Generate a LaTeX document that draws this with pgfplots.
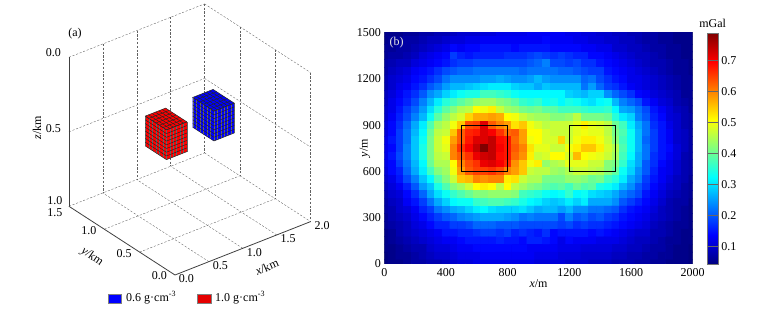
\documentclass[border=0pt]{standalone}
\usepackage{pgfplots}
\usepackage{pgfplotstable}
\usepackage{fontspec}
\setmainfont{Liberation Serif}
\pgfplotsset{compat=1.18}
\newcommand{\ff}{\fontsize{12}{14}\selectfont}
\definecolor{griddash}{gray}{0.38}
\pgfplotstableread[row sep=\\]{v\\%
.05\\.05\\.05\\.06\\.06\\.07\\.07\\.08\\.08\\.09\\.10\\.10\\.10\\.11\\.11\\.12\\.12\\.12\\.12\\.13\\.13\\.13\\.13\\.13\\.12\\.12\\.11\\.11\\.10\\.10\\.09\\.09\\.08\\.08\\.07\\.07\\.06\\.06\\.05\\.05\\.05\\%
.05\\.06\\.06\\.07\\.07\\.08\\.09\\.09\\.10\\.11\\.11\\.12\\.12\\.13\\.13\\.13\\.13\\.13\\.13\\.13\\.13\\.14\\.13\\.13\\.13\\.12\\.12\\.11\\.11\\.10\\.10\\.09\\.09\\.08\\.07\\.07\\.06\\.06\\.05\\.05\\.05\\%
.06\\.06\\.07\\.07\\.08\\.09\\.10\\.11\\.12\\.14\\.13\\.14\\.14\\.15\\.15\\.15\\.15\\.14\\.15\\.15\\.15\\.15\\.14\\.14\\.14\\.14\\.13\\.13\\.12\\.12\\.10\\.10\\.09\\.09\\.08\\.07\\.07\\.06\\.06\\.05\\.05\\%
.06\\.07\\.07\\.08\\.09\\.11\\.12\\.13\\.14\\.18\\.16\\.15\\.16\\.16\\.16\\.16\\.17\\.17\\.17\\.18\\.19\\.18\\.17\\.18\\.17\\.16\\.16\\.14\\.14\\.13\\.12\\.11\\.10\\.09\\.09\\.08\\.07\\.06\\.06\\.05\\.05\\%
.07\\.08\\.09\\.09\\.11\\.12\\.13\\.14\\.15\\.17\\.18\\.18\\.19\\.19\\.19\\.19\\.19\\.19\\.19\\.20\\.21\\.23\\.19\\.19\\.18\\.19\\.17\\.17\\.15\\.14\\.13\\.12\\.11\\.10\\.09\\.08\\.08\\.07\\.06\\.06\\.05\\%
.07\\.09\\.10\\.11\\.13\\.14\\.15\\.17\\.19\\.20\\.21\\.21\\.22\\.22\\.22\\.22\\.22\\.22\\.21\\.22\\.22\\.22\\.22\\.21\\.21\\.20\\.19\\.18\\.18\\.15\\.14\\.13\\.12\\.11\\.10\\.09\\.08\\.07\\.06\\.06\\.05\\%
.08\\.10\\.11\\.12\\.14\\.15\\.17\\.19\\.22\\.24\\.24\\.24\\.24\\.25\\.25\\.26\\.25\\.24\\.24\\.25\\.27\\.25\\.24\\.24\\.24\\.24\\.21\\.22\\.19\\.17\\.15\\.14\\.12\\.12\\.11\\.10\\.09\\.08\\.07\\.06\\.06\\%
.08\\.10\\.12\\.13\\.15\\.17\\.20\\.22\\.25\\.27\\.27\\.28\\.29\\.30\\.31\\.31\\.31\\.29\\.28\\.28\\.26\\.28\\.27\\.27\\.27\\.27\\.22\\.25\\.21\\.18\\.17\\.15\\.13\\.12\\.11\\.10\\.09\\.08\\.07\\.06\\.06\\%
.09\\.11\\.13\\.15\\.17\\.20\\.24\\.26\\.29\\.31\\.33\\.34\\.34\\.37\\.37\\.36\\.35\\.33\\.32\\.32\\.32\\.32\\.32\\.32\\.29\\.28\\.27\\.29\\.29\\.24\\.21\\.19\\.17\\.14\\.13\\.11\\.10\\.09\\.08\\.06\\.06\\%
.09\\.12\\.14\\.16\\.19\\.23\\.27\\.31\\.35\\.37\\.39\\.41\\.43\\.44\\.44\\.42\\.41\\.39\\.36\\.35\\.36\\.33\\.34\\.32\\.34\\.33\\.31\\.30\\.32\\.33\\.27\\.23\\.21\\.19\\.15\\.13\\.11\\.10\\.08\\.07\\.06\\%
.10\\.12\\.15\\.18\\.21\\.25\\.30\\.35\\.39\\.42\\.45\\.46\\.51\\.50\\.52\\.47\\.44\\.43\\.41\\.40\\.41\\.39\\.39\\.37\\.37\\.37\\.36\\.35\\.35\\.36\\.32\\.26\\.25\\.22\\.19\\.15\\.13\\.11\\.09\\.08\\.06\\%
.10\\.13\\.16\\.19\\.23\\.27\\.33\\.39\\.43\\.46\\.48\\.54\\.57\\.57\\.58\\.57\\.51\\.50\\.47\\.45\\.44\\.44\\.42\\.42\\.43\\.46\\.41\\.41\\.41\\.40\\.35\\.31\\.29\\.23\\.20\\.16\\.14\\.11\\.10\\.08\\.07\\%
.11\\.14\\.17\\.21\\.26\\.31\\.38\\.44\\.46\\.50\\.55\\.64\\.65\\.72\\.63\\.60\\.58\\.53\\.55\\.50\\.48\\.46\\.47\\.47\\.47\\.49\\.52\\.49\\.48\\.46\\.40\\.37\\.31\\.26\\.22\\.17\\.15\\.12\\.10\\.08\\.07\\%
.11\\.14\\.18\\.22\\.27\\.32\\.40\\.46\\.47\\.55\\.63\\.67\\.68\\.72\\.70\\.66\\.62\\.63\\.58\\.51\\.51\\.48\\.47\\.47\\.47\\.49\\.50\\.49\\.49\\.46\\.41\\.38\\.33\\.27\\.22\\.18\\.15\\.13\\.10\\.09\\.07\\%
.12\\.15\\.18\\.22\\.28\\.33\\.41\\.47\\.50\\.58\\.63\\.68\\.72\\.72\\.74\\.69\\.68\\.62\\.58\\.50\\.51\\.48\\.48\\.54\\.47\\.50\\.52\\.52\\.50\\.47\\.42\\.37\\.33\\.27\\.21\\.18\\.15\\.13\\.10\\.09\\.07\\%
.12\\.14\\.18\\.23\\.28\\.34\\.41\\.47\\.49\\.60\\.66\\.70\\.74\\.79\\.74\\.70\\.68\\.63\\.60\\.53\\.49\\.49\\.47\\.47\\.50\\.52\\.55\\.55\\.52\\.48\\.45\\.38\\.33\\.27\\.22\\.18\\.15\\.14\\.11\\.09\\.07\\%
.12\\.15\\.19\\.23\\.28\\.34\\.41\\.46\\.47\\.60\\.63\\.66\\.71\\.73\\.74\\.69\\.68\\.62\\.59\\.52\\.47\\.48\\.51\\.51\\.48\\.56\\.51\\.50\\.49\\.47\\.44\\.37\\.32\\.26\\.22\\.17\\.15\\.13\\.11\\.08\\.07\\%
.12\\.14\\.18\\.22\\.27\\.32\\.40\\.45\\.45\\.51\\.60\\.64\\.66\\.71\\.72\\.70\\.67\\.59\\.55\\.50\\.52\\.43\\.45\\.46\\.49\\.49\\.49\\.47\\.47\\.42\\.41\\.36\\.30\\.26\\.20\\.17\\.14\\.12\\.10\\.08\\.07\\%
.11\\.14\\.16\\.21\\.26\\.31\\.37\\.42\\.44\\.50\\.58\\.63\\.65\\.65\\.66\\.64\\.60\\.58\\.55\\.47\\.46\\.46\\.44\\.43\\.45\\.47\\.47\\.46\\.45\\.42\\.39\\.33\\.29\\.24\\.20\\.16\\.13\\.12\\.10\\.08\\.07\\%
.10\\.12\\.15\\.19\\.23\\.28\\.32\\.38\\.42\\.47\\.55\\.56\\.60\\.59\\.60\\.60\\.52\\.53\\.47\\.45\\.45\\.41\\.41\\.41\\.43\\.43\\.42\\.40\\.41\\.37\\.35\\.31\\.26\\.23\\.18\\.15\\.13\\.11\\.09\\.08\\.06\\%
.09\\.11\\.13\\.16\\.20\\.25\\.28\\.34\\.38\\.42\\.44\\.47\\.51\\.52\\.51\\.46\\.51\\.46\\.44\\.42\\.41\\.39\\.38\\.39\\.37\\.40\\.38\\.39\\.34\\.33\\.31\\.27\\.24\\.20\\.17\\.14\\.12\\.10\\.09\\.07\\.06\\%
.08\\.10\\.11\\.14\\.17\\.21\\.26\\.30\\.33\\.36\\.38\\.40\\.42\\.42\\.43\\.43\\.43\\.42\\.37\\.36\\.35\\.33\\.32\\.33\\.36\\.32\\.33\\.30\\.29\\.28\\.26\\.23\\.21\\.19\\.15\\.13\\.11\\.09\\.08\\.07\\.06\\%
.07\\.09\\.10\\.13\\.15\\.18\\.22\\.26\\.29\\.32\\.33\\.33\\.36\\.37\\.38\\.38\\.37\\.36\\.34\\.32\\.31\\.29\\.28\\.29\\.31\\.29\\.31\\.26\\.26\\.26\\.24\\.20\\.18\\.16\\.14\\.12\\.10\\.08\\.07\\.07\\.05\\%
.07\\.08\\.10\\.11\\.13\\.16\\.18\\.22\\.24\\.26\\.27\\.29\\.31\\.32\\.30\\.29\\.29\\.29\\.30\\.28\\.26\\.27\\.27\\.25\\.27\\.24\\.24\\.22\\.22\\.21\\.20\\.17\\.15\\.14\\.13\\.11\\.09\\.08\\.07\\.06\\.05\\%
.06\\.08\\.09\\.10\\.12\\.14\\.16\\.18\\.20\\.21\\.23\\.24\\.25\\.26\\.26\\.26\\.25\\.24\\.22\\.23\\.22\\.22\\.22\\.19\\.23\\.20\\.21\\.19\\.20\\.18\\.17\\.15\\.14\\.13\\.12\\.10\\.09\\.08\\.07\\.06\\.05\\%
.06\\.07\\.08\\.09\\.11\\.12\\.14\\.16\\.16\\.18\\.18\\.19\\.21\\.21\\.21\\.20\\.20\\.20\\.19\\.19\\.19\\.19\\.19\\.18\\.19\\.17\\.18\\.17\\.17\\.16\\.15\\.14\\.13\\.12\\.11\\.09\\.08\\.07\\.06\\.06\\.05\\%
.05\\.06\\.08\\.09\\.10\\.11\\.12\\.13\\.15\\.15\\.16\\.16\\.17\\.18\\.18\\.17\\.18\\.16\\.17\\.16\\.15\\.17\\.14\\.15\\.15\\.15\\.15\\.14\\.15\\.14\\.13\\.12\\.11\\.10\\.10\\.08\\.08\\.07\\.06\\.05\\.05\\%
.05\\.06\\.07\\.08\\.09\\.10\\.11\\.12\\.13\\.13\\.14\\.15\\.15\\.15\\.15\\.16\\.15\\.15\\.14\\.16\\.16\\.15\\.14\\.12\\.14\\.13\\.13\\.13\\.12\\.12\\.12\\.11\\.10\\.09\\.09\\.08\\.07\\.06\\.06\\.05\\.05\\%
.05\\.05\\.06\\.07\\.08\\.08\\.10\\.11\\.11\\.12\\.13\\.13\\.14\\.14\\.14\\.14\\.14\\.14\\.14\\.13\\.13\\.13\\.13\\.12\\.12\\.12\\.11\\.11\\.11\\.11\\.10\\.10\\.09\\.09\\.08\\.07\\.07\\.06\\.05\\.05\\.04\\%
.04\\.05\\.06\\.06\\.07\\.08\\.09\\.10\\.10\\.11\\.12\\.12\\.12\\.13\\.13\\.13\\.13\\.13\\.13\\.13\\.12\\.12\\.12\\.11\\.11\\.11\\.10\\.10\\.10\\.10\\.09\\.09\\.08\\.08\\.07\\.07\\.06\\.06\\.05\\.05\\.04\\%
.04\\.05\\.05\\.06\\.07\\.07\\.08\\.08\\.09\\.10\\.11\\.11\\.12\\.12\\.12\\.12\\.12\\.12\\.12\\.12\\.11\\.11\\.11\\.11\\.10\\.10\\.10\\.09\\.09\\.09\\.08\\.08\\.08\\.07\\.07\\.06\\.06\\.05\\.05\\.05\\.04\\%
}\heat
\newcommand{\gridln}[6]{\addplot3[griddash,line width=0.35pt,dash pattern=on 2.2pt off 1.6pt,forget plot] coordinates {(#1,#2,#3)(#4,#5,#6)};}
\newcommand{\solidln}[6]{\addplot3[black!75,line width=0.8pt,forget plot] coordinates {(#1,#2,#3)(#4,#5,#6)};}
\pgfplotsset{diagln/.style={black!85,line width=0.5pt,forget plot},vertln/.style={black!60,line width=0.3pt,forget plot}}
\newcommand{\blockplot}[4]{%
 \addplot3[fill=#1,draw=none,forget plot] coordinates {(#2,0.6,0.3)(#3,0.6,0.3)(#3,0.9,0.3)(#2,0.9,0.3)};
 \addplot3[fill=#1,draw=none,forget plot] coordinates {(#2,0.6,0.3)(#2,0.9,0.3)(#2,0.9,0.5)(#2,0.6,0.5)};
 \addplot3[fill=#1,draw=none,forget plot] coordinates {(#2,0.6,0.3)(#3,0.6,0.3)(#3,0.6,0.5)(#2,0.6,0.5)};
 \pgfplotsinvokeforeach{#4}{%
  \addplot3[diagln] coordinates {(##1,0.6,0.3)(##1,0.9,0.3)};
  \addplot3[vertln] coordinates {(##1,0.6,0.3)(##1,0.6,0.5)};
 }
 \pgfplotsinvokeforeach{0.60,0.65,0.70,0.75,0.80,0.85,0.90}{%
  \addplot3[diagln] coordinates {(#2,##1,0.3)(#3,##1,0.3)};
  \addplot3[vertln] coordinates {(#2,##1,0.3)(#2,##1,0.5)};
 }
 \pgfplotsinvokeforeach{0.30,0.325,0.35,0.375,0.40,0.425,0.45,0.475,0.50}{%
  \addplot3[diagln] coordinates {(#2,0.6,##1)(#2,0.9,##1)};
  \addplot3[diagln] coordinates {(#2,0.6,##1)(#3,0.6,##1)};
 }
}
\begin{document}
\begin{tikzpicture}[x=1pt,y=1pt]
\useasboundingbox (0,0) rectangle (763,308);
% ---------- panel (a)
\begin{axis}[
  at={(175pt,182pt)},anchor=origin,
  hide axis,clip=false,disabledatascaling,
  x={(67.8pt,26.7pt)},y={(-70.7pt,45.8pt)},z={(0pt,-149pt)},
  xmin=0,xmax=2,ymin=0,ymax=1.5,zmin=0,zmax=1,
  every axis plot/.append style={no marks},
]
% walls and floor
\pgfplotsinvokeforeach{0.5,1.0,1.5}{%
  \gridln{#1}{1.5}{0}{#1}{1.5}{1}
  \gridln{#1}{0}{1}{#1}{1.5}{1}
}
\pgfplotsinvokeforeach{0.5,1.0}{%
  \gridln{2}{#1}{0}{2}{#1}{1}
  \gridln{0}{#1}{1}{2}{#1}{1}
}
\gridln{0}{1.5}{0}{2}{1.5}{0}
\gridln{2}{1.5}{0}{2}{0}{0}
\gridln{0}{1.5}{0.5}{2}{1.5}{0.5}
\gridln{2}{1.5}{0.5}{2}{0}{0.5}
\gridln{0}{1.5}{1}{2}{1.5}{1}
\gridln{2}{1.5}{1}{2}{0}{1}
\gridln{2}{1.5}{0}{2}{1.5}{1}
\gridln{2}{0}{0}{2}{0}{1}
% axes
\solidln{0}{1.5}{0}{0}{1.5}{1}
\solidln{0}{0}{1}{2}{0}{1}
\solidln{0}{0}{1}{0}{1.5}{1}
% blocks
\blockplot{blue}{1.2}{1.5}{1.20,1.25,1.30,1.35,1.40,1.45,1.50}
\blockplot{red}{0.5}{0.8}{0.50,0.55,0.60,0.65,0.70,0.75,0.80}
% tick labels
\pgfplotsinvokeforeach{0.0,0.5,1.0,1.5,2.0}{%
  \node[font=\ff,xshift=11.5pt,yshift=-4pt] at (axis cs:#1,0,1) {#1};
}
\pgfplotsinvokeforeach{0.0,0.5,1.0}{%
  \node[font=\ff,xshift=-15.5pt,yshift=-1pt] at (axis cs:0,#1,1) {#1};
}
\node[font=\ff,xshift=-14pt,yshift=-6pt] at (axis cs:0,1.5,1) {1.5};
\node[font=\ff,xshift=-15.5pt,yshift=5pt] at (axis cs:0,1.5,0) {0.0};
\node[font=\ff,xshift=-15.5pt,yshift=3pt] at (axis cs:0,1.5,0.5) {0.5};
\node[font=\ff,xshift=-14pt,yshift=6pt] at (axis cs:0,1.5,1) {1.0};
\end{axis}
\node[font=\ff] at (75,274) {(a)};
\node[font=\ff,rotate=90] at (37,180) {\textit{z}/km};
\node[font=\ff,rotate=-35] at (92,51) {\textit{y}/km};
\node[font=\ff,rotate=24] at (267,41) {\textit{x}/km};
% legend
\fill[blue,draw=black!50,line width=0.4pt] (107.7,5) rectangle (120.7,14);
\node[font=\ff,anchor=west,inner sep=0pt] at (126,10.5) {0.6 g·cm\textsuperscript{-3}};
\fill[red!90!black,draw=black!50,line width=0.4pt] (197.3,5) rectangle (210.7,14);
\node[font=\ff,anchor=west,inner sep=0pt] at (215,10.5) {1.0 g·cm\textsuperscript{-3}};
% ---------- panel (b)
\begin{axis}[
  at={(384.3pt,44.3pt)},anchor=south west,
  scale only axis,width=308.4pt,height=231pt,
  xmin=0,xmax=2000,ymin=0,ymax=1500,
  xtick={0,400,800,1200,1600,2000},
  ytick={0,300,600,900,1200,1500},
  /pgf/number format/assume math mode=true,
  /pgf/number format/1000 sep={},
  tick label style={font=\ff},
  tick style={white,line width=0.5pt},
  major tick length=3pt,
  axis line style={black!55,line width=0.6pt},
  xtick pos=both,ytick pos=both,
  tick align=inside,
  xticklabel style={yshift=-1pt},
  xlabel={\textit{x}/m},ylabel={\textit{y}/m},
  every axis x label/.style={at={(axis description cs:0.5,-0.088)},anchor=center,font=\ff},
  every axis y label/.style={at={(axis description cs:-0.0626,0.5)},anchor=center,rotate=90,font=\ff},
  axis background/.style={fill=blue!85!black},
  colormap/jet,
  point meta min=0.043,point meta max=0.789,
  colorbar,
  colorbar style={
    at={(1.0474,0.999)},anchor=north west,
    width=10.6pt,
    ytick={0.1,0.2,0.3,0.4,0.5,0.6,0.7},
    yticklabel style={font=\ff,/pgf/number format/assume math mode=true,/pgf/number format/fixed,/pgf/number format/precision=1},
    tick style={black!60,line width=0.5pt},
    major tick length=10.6pt,
    tick align=inside,
    ytick pos=right,
    yticklabel pos=right,
    axis line style={black!55,line width=0.6pt},
    title={mGal},
    title style={font=\ff,yshift=-4pt},
  },
]
\addplot[matrix plot*,mesh/cols=41,mesh/rows=31,point meta=\thisrow{v}]
  table[x index=0,y index=0,x expr={mod(\coordindex,41)*50},y expr={1500-floor((\coordindex+0.5)/41)*50}] {\heat};
\addplot[black,line width=0.8pt,no marks] coordinates {(500,600)(800,600)(800,900)(500,900)(500,600)};
\addplot[black,line width=0.8pt,no marks] coordinates {(1200,600)(1500,600)(1500,900)(1200,900)(1200,600)};
\end{axis}
\node[font=\ff,text=white!90!black] at (396.7,265.3) {(b)};
\end{tikzpicture}
\end{document}
